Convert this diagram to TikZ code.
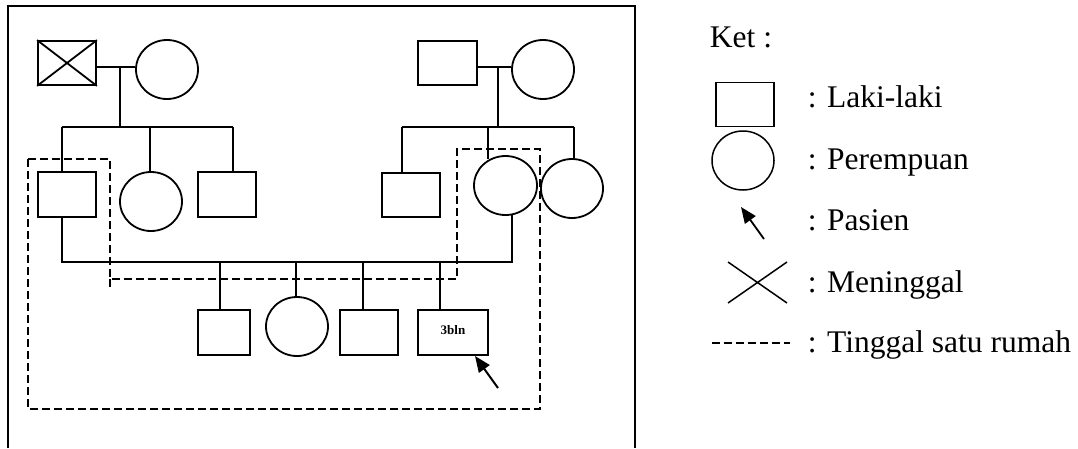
\documentclass[tikz,border=0pt]{standalone}
\usepackage{fontspec}
\setmainfont{Liberation Serif}
\usetikzlibrary{arrows.meta,calc,shapes.geometric}
\begin{document}
\begin{tikzpicture}[x=1pt,y=-1pt,
  line width=1.8pt,
  male/.style={draw,rectangle,inner sep=0pt,minimum width=58pt,minimum height=45pt},
  female/.style={draw,ellipse,inner sep=0pt,minimum width=62pt,minimum height=59pt},
  house/.style={dashed,dash pattern=on 8pt off 4pt,line width=1.6pt},
  pointer/.style={-{Triangle[length=16pt,width=13pt]},line width=2pt},
  lbl/.style={anchor=base west,inner sep=0pt,font=\fontsize{31.5}{36}\selectfont}
]
\useasboundingbox (0,0) rectangle (1078,448);
% frame (bottom edge lies below the visible area)
\draw (8,448) -- (8,6) -- (635,6) -- (635,448);

% grandparents left
\node[male,minimum width=58pt,minimum height=44pt] (gf1) at (67,63) {};
\draw (gf1.north west) -- (gf1.south east) (gf1.south west) -- (gf1.north east);
\node[female] (gm1) at (167,69.5) {};
% grandparents right
\node[male,minimum width=59pt,minimum height=44pt] (gf2) at (447.5,63) {};
\node[female] (gm2) at (543,69.5) {};

% children left
\node[male] (c1) at (67,194.5) {};
\node[female] (c2) at (151,201.5) {};
\node[male] (c3) at (227,194.5) {};
% children right
\node[male,minimum height=44pt] (d1) at (411,195) {};
\node[female,minimum width=63pt] (d2) at (505.5,185.5) {};
\node[female] (d3) at (572,188.5) {};

% grandchildren
\node[male,minimum width=52pt] (g1) at (224,332.5) {};
\node[female] (g2) at (297,326.5) {};
\node[male] (g3) at (369,332.5) {};
\node[male,minimum width=70pt] (g4) at (453,332.5) {};
\node[font=\fontsize{13}{15}\selectfont\bfseries] (g4t) at (453,330) {3bln};

% coordinates
\coordinate (m1) at (120,67);
\coordinate (s1) at (120,127);
\coordinate (s1L) at (62,127);
\coordinate (s1R) at (233,127);
\coordinate (s1M) at (150,127);
\coordinate (m2) at (498,67);
\coordinate (s2) at (498,127);
\coordinate (s2L) at (402,127);
\coordinate (s2R) at (574,127);
\coordinate (s2M) at (488,127);
\coordinate (cp1) at (62,262);
\coordinate (cp2) at (512,262);
\coordinate (k1) at (220,262);
\coordinate (k2) at (296,262);
\coordinate (k3) at (363,262);
\coordinate (k4) at (440,262);

% left family lines
\draw (gf1.east |- m1) -- (gm1.west |- m1);
\draw (m1) -- (s1);
\draw (s1L) -- (s1R);
\draw (s1L) -- (s1L |- c1.north);
\draw (s1M) -- (s1M |- c2.north);
\draw (s1R) -- (s1R |- c3.north);
% right family lines
\draw (gf2.east |- m2) -- (gm2.west |- m2);
\draw (m2) -- (s2);
\draw (s2L) -- (s2R);
\draw (s2L) -- (s2L |- d1.north);
\draw (s2M) -- (488,159);
\draw (s2R) -- (574,159.5);
% couple line
\draw (cp1 |- c1.south) -- (cp1) -- (cp2) -- (512,215);
% grandchildren lines
\draw (k1) -- (k1 |- g1.north);
\draw (k2) -- (k2 |- g2.north);
\draw (k3) -- (k3 |- g3.north);
\draw (k4) -- (k4 |- g4.north);

% patient arrow
\coordinate (pa) at (498,388);
\coordinate (pt) at (475,356);
\draw[pointer] (pa) -- (pt);

% household dashed outline
\draw[house] (28,159) -- (110,159) -- (110,279) -- (457,279) -- (457,149) -- (540,149) -- (540,409) -- (28,409) -- cycle;
\draw[house] (110,279) -- (110,287);

% legend
\node[lbl] (ket) at (709,47) {Ket :};
\node[male,line width=1.5pt,minimum height=44pt] (lm) at (745,104.5) {};
\node[lbl] (lmt) at (807,107) {: Laki-laki};
\node[female,line width=1.5pt] (lf) at (743,160.5) {};
\node[lbl] (lft) at (807,169) {: Perempuan};
\coordinate (la1) at (764,239);
\coordinate (la2) at (741,207);
\draw[pointer,line width=1.8pt] (la1) -- (la2);
\node[lbl] (lpt) at (807,230) {: Pasien};
\coordinate (lx1) at (728,262);
\coordinate (lx2) at (787,303);
\draw[line width=1.5pt] (lx1) -- (lx2) (lx1 |- lx2) -- (lx2 |- lx1);
\node[lbl] (lxt) at (807,292) {: Meninggal};
\coordinate (ld1) at (712,343);
\coordinate (ld2) at (790,343);
\draw[house,line width=1.3pt] (ld1) -- (ld2);
\node[lbl] (ldt) at (807,352) {: Tinggal satu rumah};
\end{tikzpicture}
\end{document}
